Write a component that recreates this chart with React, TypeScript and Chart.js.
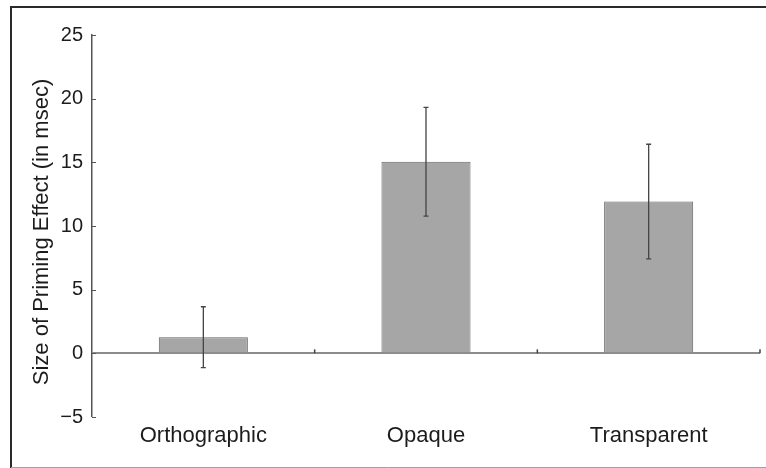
import React, { useEffect, useRef } from "react";
import { Chart, registerables } from "chart.js";

Chart.register(...registerables);

const categories = ["Orthographic", "Opaque", "Transparent"];
const primingEffect = [1.27, 15.04, 11.92];
const errorHalf = [2.39, 4.27, 4.5];
const yMin = -5;
const yMax = 25;
const yStep = 5;
const yTitle = "Size of Priming Effect (in msec)";

const FONT = "'Liberation Sans', Arial, Helvetica, sans-serif";
const TEXT = "#1c1c1c";

const decorPlugin = {
  id: "decor",
  beforeDraw(chart: any) {
    const ctx = chart.ctx;
    ctx.save();
    ctx.fillStyle = "#ffffff";
    ctx.fillRect(0, 0, chart.width, chart.height);
    // frame
    ctx.strokeStyle = "#2a2a2a";
    ctx.lineWidth = 2;
    ctx.beginPath();
    ctx.moveTo(11, chart.height);
    ctx.lineTo(11, 7);
    ctx.lineTo(chart.width, 7);
    ctx.stroke();
    ctx.strokeStyle = "#a0a0a0";
    ctx.lineWidth = 1;
    ctx.beginPath();
    ctx.moveTo(11, 467.5);
    ctx.lineTo(chart.width, 467.5);
    ctx.stroke();
    // y title
    ctx.fillStyle = TEXT;
    ctx.font = "22px " + FONT;
    ctx.textAlign = "center";
    ctx.textBaseline = "middle";
    ctx.translate(42, 232);
    ctx.rotate(-Math.PI / 2);
    ctx.fillText(yTitle, 0, 0);
    ctx.restore();
  },
  afterDatasetsDraw(chart: any) {
    const ctx = chart.ctx;
    const x = chart.scales.x;
    const y = chart.scales.y;
    const left = chart.chartArea.left;
    ctx.save();
    // y ticks pointing inward
    ctx.strokeStyle = "#555";
    ctx.lineWidth = 1;
    for (let v = yMin; v <= yMax; v += yStep) {
      const py = Math.round(y.getPixelForValue(v)) + 0.5;
      ctx.beginPath();
      ctx.moveTo(left, py);
      ctx.lineTo(left + 4, py);
      ctx.stroke();
    }
    // x boundary ticks on zero line
    const zy = y.getPixelForValue(0);
    ctx.strokeStyle = "#444";
    ctx.lineWidth = 1.5;
    for (let i = 1; i <= categories.length; i++) {
      const px = x.getPixelForValue(i - 0.5);
      ctx.beginPath();
      ctx.moveTo(px, zy);
      ctx.lineTo(px, zy - 4);
      ctx.stroke();
    }
    // error bars
    ctx.strokeStyle = "#444";
    ctx.lineWidth = 1.3;
    primingEffect.forEach((v, i) => {
      const px = x.getPixelForValue(i);
      const top = y.getPixelForValue(v + errorHalf[i]);
      const bot = y.getPixelForValue(v - errorHalf[i]);
      ctx.beginPath();
      ctx.moveTo(px, top);
      ctx.lineTo(px, bot);
      ctx.moveTo(px - 2.5, top);
      ctx.lineTo(px + 2.5, top);
      ctx.moveTo(px - 2.5, bot);
      ctx.lineTo(px + 2.5, bot);
      ctx.stroke();
    });
    ctx.restore();
  },
};

export default function App() {
  const ref = useRef<HTMLCanvasElement | null>(null);
  useEffect(() => {
    document.body.style.margin = "0";
    const canvas = ref.current;
    if (!canvas) return;
    const chart = new Chart(canvas, {
      type: "bar",
      data: {
        labels: categories,
        datasets: [
          {
            data: primingEffect,
            backgroundColor: "#a6a6a6",
            borderColor: "#666666",
            borderWidth: 1,
            categoryPercentage: 1,
            barPercentage: 0.4,
          },
        ],
      },
      options: {
        responsive: false,
        animation: false,
        devicePixelRatio: 1,
        layout: { padding: { left: 0, right: 6, top: 35, bottom: 0 } },
        plugins: {
          legend: { display: false },
          tooltip: { enabled: false },
          title: { display: false },
        },
        scales: {
          x: {
            grid: { display: false, drawTicks: false },
            border: { display: false },
            ticks: {
              color: TEXT,
              font: { family: FONT, size: 22 },
              padding: 6,
              maxRotation: 0,
            },
            afterFit(scale: any) {
              scale.height = 51;
            },
          },
          y: {
            min: yMin,
            max: yMax,
            grid: {
              drawTicks: false,
              color: (c: any) => (c.tick && c.tick.value === 0 ? "#8c8c8c" : "rgba(0,0,0,0)"),
              lineWidth: (c: any) => (c.tick && c.tick.value === 0 ? 2 : 0),
            },
            border: { display: true, color: "#555", width: 1.5 },
            ticks: {
              stepSize: yStep,
              color: TEXT,
              font: { family: FONT, size: 20 },
              padding: 9,
              callback: (v: any) => (Number(v) < 0 ? "\u2212" + Math.abs(Number(v)) : String(v)),
            },
            afterFit(scale: any) {
              scale.width = 92;
            },
          },
        },
      },
      plugins: [decorPlugin],
    });
    return () => chart.destroy();
  }, []);
  return (
    <div style={{ position: "fixed", left: 0, top: 0, width: 766, height: 468 }}>
      <canvas ref={ref} width={766} height={468} />
    </div>
  );
}
